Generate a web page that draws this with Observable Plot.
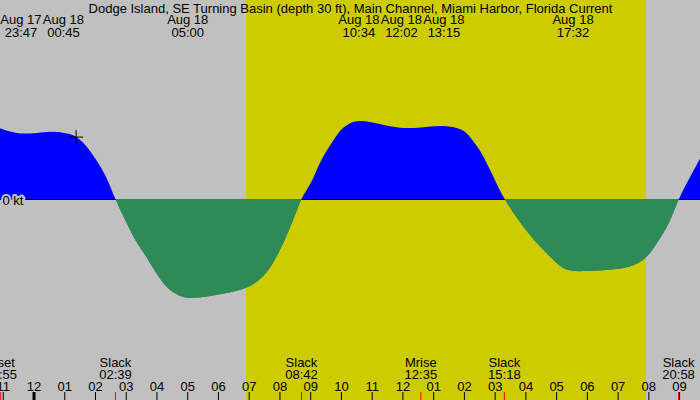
<!DOCTYPE html>
<html>
<head>
<meta charset="utf-8">
<script src="https://cdn.jsdelivr.net/npm/d3@7"></script>
<script src="https://cdn.jsdelivr.net/npm/@observablehq/plot@0.6"></script>
<style>
  html, body { margin: 0; padding: 0; background: #c0c0c0; }
  #chart svg { display: block; }
</style>
</head>
<body>
<div id="chart"></div>
<script>
// ---- Data ----
const title = "Dodge Island, SE Turning Basin (depth 30 ft), Main Channel, Miami Harbor, Florida Current";

// current speed curve: hours after Aug 18 00:00, speed in knots (+ flood, - ebb)
const curveHours = [-1.09, -0.70, -0.27, 0.25, 0.75, 1.24, 1.37, 1.67, 2.05, 2.38, 2.65,
  3.03, 3.36, 3.68, 3.95, 4.22, 4.50, 4.82, 5.04, 5.74, 6.50, 6.94, 7.37, 7.69, 7.91, 8.18, 8.45, 8.70,
  8.89, 9.13, 9.34, 9.70, 9.97, 10.24, 10.60, 11.27, 11.92, 12.60, 13.25, 13.70, 13.98, 14.20, 14.52, 14.74, 14.96, 15.30,
  15.83, 16.31, 16.80, 17.13, 17.46, 18.10, 19.19, 19.73, 20.06, 20.27, 20.70, 20.97, 21.36, 21.69];
const curveKt = [1.18, 1.11, 1.08, 1.11, 1.13, 1.08, 1.04, 0.93, 0.65, 0.37, 0.00,
  -0.40, -0.74, -0.96, -1.21, -1.41, -1.55, -1.63, -1.66, -1.62, -1.55, -1.49, -1.35, -1.16, -0.96, -0.68, -0.35, 0.00,
  0.15, 0.37, 0.65, 0.93, 1.15, 1.26, 1.32, 1.25, 1.17, 1.19, 1.23, 1.20, 1.15, 1.04, 0.82, 0.60, 0.37, 0.00,
  -0.40, -0.71, -0.96, -1.13, -1.21, -1.20, -1.17, -1.07, -0.91, -0.74, -0.40, 0.00, 0.37, 0.68];

// max / min current events (top labels)
const topDates = ["Aug 17", "Aug 18", "Aug 18", "Aug 18", "Aug 18", "Aug 18", "Aug 18"];
const topTimes = ["23:47", "00:45", "05:00", "10:34", "12:02", "13:15", "17:32"];
const topDays  = [17, 18, 18, 18, 18, 18, 18];

// slack water and moon events (bottom labels)
const bottomNames = ["Mset", "Slack", "Slack", "Mrise", "Slack", "Slack"];
const bottomTimes = ["22:55", "02:39", "08:42", "12:35", "15:18", "20:58"];
const bottomDays  = [17, 18, 18, 18, 18, 18];

// daylight
const sunrise = "06:55";
const sunset = "19:55";

// hour ticks
const tickHours = [-1, 0, 1, 2, 3, 4, 5, 6, 7, 8, 9, 10, 11, 12, 13, 14, 15, 16, 17, 18, 19, 20, 21];
const tickLabels = ["11", "12", "01", "02", "03", "04", "05", "06", "07", "08", "09", "10",
  "11", "12", "01", "02", "03", "04", "05", "06", "07", "08", "09"];

// current-time marker
const markerHour = 1.37;
const markerKt = 1.04;

// ---- Helpers ----
const W = 700, H = 400;
const xDomain = [-1.09, 21.68];
const yDomain = [-3.35, 3.3167];
const floodColor = "#0000ff";
const ebbColor = "#2e8b57";
const dayColor = "#cccc00";
const nightColor = "#c0c0c0";
const font = "'Liberation Sans', Arial, sans-serif";
const fs = 13;

function toHour(t, day = 18) {
  const [h, m] = t.split(":").map(Number);
  return (day - 18) * 24 + h + m / 60;
}

const curve = curveHours.map((h, i) => ({h, v: curveKt[i]}));
const topEvents = topTimes.map((t, i) => ({date: topDates[i], time: t, h: toHour(t, topDays[i])}));
const bottomEvents = bottomTimes.map((t, i) => ({name: bottomNames[i], time: t, h: toHour(t, bottomDays[i])}));

// spread top labels so they don't overlap (label width ~42px)
const hoursPerPx = (xDomain[1] - xDomain[0]) / W;
const gap = 42.5 * hoursPerPx;
const lx = topEvents.map(d => d.h);
for (let it = 0; it < 30; it++) {
  for (let i = 1; i < lx.length; i++) {
    const d = lx[i] - lx[i - 1];
    if (d < gap) { const s = (gap - d) / 2; lx[i - 1] -= s; lx[i] += s; }
  }
}
topEvents.forEach((d, i) => d.lx = lx[i]);

const yPix = d3.scaleLinear(yDomain, [H, 0]);
const z = yPix(0);

function gradientDefs() {
  const g = d3.create("svg:g");
  const defs = g.append("defs");
  const lg = defs.append("linearGradient")
    .attr("id", "flowFill").attr("gradientUnits", "userSpaceOnUse")
    .attr("x1", 0).attr("x2", 0).attr("y1", 0).attr("y2", H);
  lg.append("stop").attr("offset", z / H).attr("stop-color", floodColor);
  lg.append("stop").attr("offset", z / H).attr("stop-color", ebbColor);
  const eg = defs.append("linearGradient")
    .attr("id", "ebbFill").attr("gradientUnits", "userSpaceOnUse")
    .attr("x1", 0).attr("x2", 0).attr("y1", 0).attr("y2", H);
  eg.append("stop").attr("offset", z / H).attr("stop-color", ebbColor).attr("stop-opacity", 0);
  eg.append("stop").attr("offset", z / H).attr("stop-color", ebbColor).attr("stop-opacity", 1);
  return g.node();
}

const txt = {fontFamily: font, fontSize: fs, fill: "black", lineAnchor: "bottom"};
const smooth = "basis";

const chart = Plot.plot({
  width: W,
  height: H,
  margin: 0,
  x: {domain: xDomain, axis: null},
  y: {domain: yDomain, axis: null},
  style: {background: nightColor, fontFamily: font, fontSize: fs + "px"},
  marks: [
    gradientDefs,
    Plot.rectX([{a: toHour(sunrise), b: toHour(sunset)}], {x1: "a", x2: "b", fill: dayColor}),
    Plot.areaY(curve, {x: "h", y1: 0, y2: "v", curve: smooth, fill: "url(#flowFill)"}),
    Plot.ruleY([0], {stroke: "black", strokeWidth: 1}),
    Plot.areaY(curve, {x: "h", y1: 0, y2: "v", curve: smooth, fill: "url(#ebbFill)"}),
    Plot.text(["0 kt"], {...txt, frameAnchor: "left", y: () => 0, dx: 2, dy: 5,
      textAnchor: "start", stroke: nightColor, strokeWidth: 4, paintOrder: "stroke"}),
    Plot.dot([{h: markerHour, v: markerKt}], {x: "h", y: "v", symbol: "plus", r: 4.5, stroke: "black", strokeWidth: 1}),
    // title
    Plot.text([title], {...txt, frameAnchor: "top", dy: 12}),
    // top event labels
    Plot.text(topEvents, {...txt, x: "lx", text: "date", frameAnchor: "top", dy: 23.5}),
    Plot.text(topEvents, {...txt, x: "lx", text: "time", frameAnchor: "top", dy: 36}),
    // bottom event labels
    Plot.text(bottomEvents, {...txt, x: "h", text: "name", frameAnchor: "bottom", dy: -33.5}),
    Plot.text(bottomEvents, {...txt, x: "h", text: "time", frameAnchor: "bottom", dy: -21.8}),
    // hour ticks
    Plot.ruleX(tickHours, {x: d => d, stroke: "black", strokeWidth: d => d === 0 ? 3 : 1, insetTop: 392}),
    Plot.ruleX(bottomEvents, {x: "h", stroke: "red", strokeWidth: 1, insetTop: 392}),
    Plot.text(tickHours, {...txt, x: d => d, text: (d, i) => tickLabels[i], frameAnchor: "bottom", dy: -10})
  ]
});

document.getElementById("chart").appendChild(chart);
</script>
</body>
</html>
